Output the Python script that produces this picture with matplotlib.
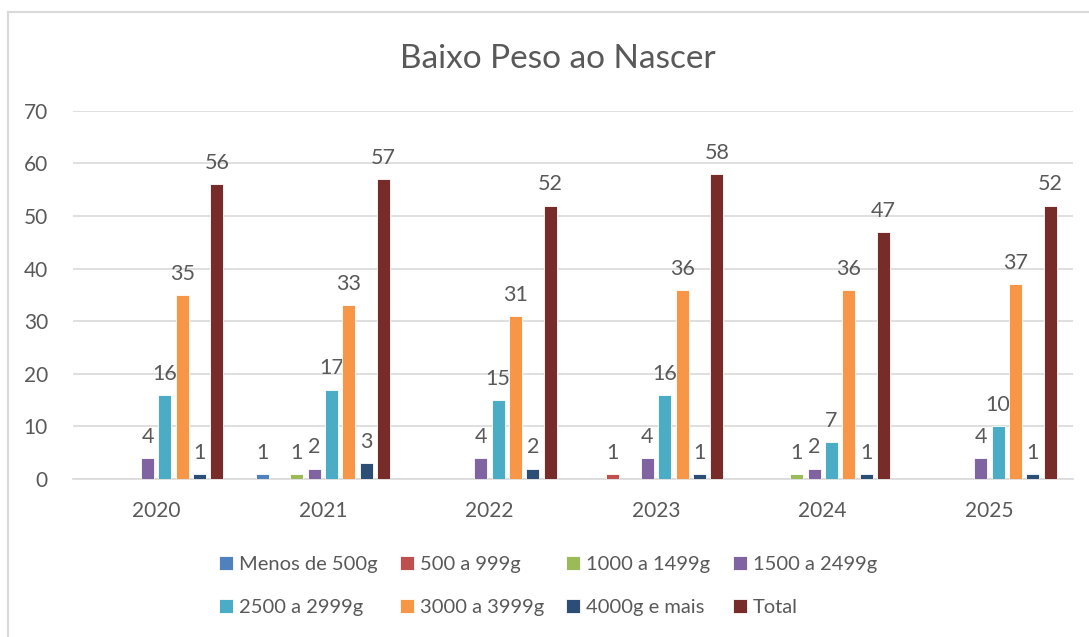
import matplotlib
matplotlib.use("Agg")
import matplotlib.pyplot as plt
from matplotlib.lines import Line2D
import numpy as np

plt.rcParams['font.family'] = ['Lato', 'DejaVu Sans']

years = ["2020", "2021", "2022", "2023", "2024", "2025"]
series_names = ["Menos de 500g", "500 a 999g", "1000 a 1499g", "1500 a 2499g",
                "2500 a 2999g", "3000 a 3999g", "4000g e mais", "Total"]
menos_500 = [0, 1, 0, 0, 0, 0]
de_500_999 = [0, 0, 0, 1, 0, 0]
de_1000_1499 = [0, 1, 0, 0, 1, 0]
de_1500_2499 = [4, 2, 4, 4, 2, 4]
de_2500_2999 = [16, 17, 15, 16, 7, 10]
de_3000_3999 = [35, 33, 31, 36, 36, 37]
mais_4000 = [1, 3, 2, 1, 1, 1]
total = [56, 57, 52, 58, 47, 52]
all_series = [menos_500, de_500_999, de_1000_1499, de_1500_2499,
              de_2500_2999, de_3000_3999, mais_4000, total]
colors = ["#4F81BD", "#C0504D", "#9BBB59", "#8064A2",
          "#4BACC6", "#F79646", "#2C4D75", "#772C2A"]
text_color = "#595959"
grid_color = "#D9D9D9"

fig = plt.figure(figsize=(10.89, 6.37), dpi=100)
ax = fig.add_axes([0.067, 0.248, 0.918, 0.578])

x = np.arange(len(years))
pitch = 0.104
width = 0.078
handles = []
for i, (name, vals, c) in enumerate(zip(series_names, all_series, colors)):
    pos = x + (i - 3.5) * pitch
    bars = ax.bar(pos, vals, width, color=c, label=name,
                  edgecolor="white", linewidth=0.6, zorder=3)
    handles.append(bars)
    for b, v in zip(bars, vals):
        if v != 0:
            ax.annotate(str(v), (b.get_x() + b.get_width() / 2, v),
                        xytext=(0, 8), textcoords="offset points",
                        ha="center", va="bottom", fontsize=15.5, color=text_color)

ax.set_xlim(-0.5, len(years) - 0.5)
ax.set_ylim(0, 70)
ax.set_yticks(range(0, 71, 10))
ax.set_xticks(x)
ax.set_xticklabels(years)
ax.yaxis.grid(True, color=grid_color, linewidth=1.2, zorder=0)
ax.set_axisbelow(True)
for s in ["top", "right", "left"]:
    ax.spines[s].set_visible(False)
ax.spines["bottom"].set_color(grid_color)
ax.spines["bottom"].set_linewidth(1.2)
ax.tick_params(axis="both", length=0, labelsize=15, labelcolor=text_color)
ax.tick_params(axis="y", pad=18)
ax.tick_params(axis="x", pad=16)

fig.text(0.512, 0.908, "Baixo Peso ao Nascer", ha="center", va="center",
         fontsize=24, color=text_color)

order = [0, 4, 1, 5, 2, 6, 3, 7]
leg = fig.legend([handles[k] for k in order], [series_names[k] for k in order],
                 loc="center", bbox_to_anchor=(0.503, 0.080), ncol=4,
                 frameon=False, fontsize=14.5, labelcolor=text_color,
                 handlelength=0.7, handleheight=0.7, handletextpad=0.3,
                 columnspacing=1.1, labelspacing=1.3)

# chart area border (left and top)
fig.add_artist(Line2D([8 / 1089, 8 / 1089], [0, 1 - 12 / 637],
                      transform=fig.transFigure, color=grid_color, linewidth=1.5))
fig.add_artist(Line2D([8 / 1089, 1], [1 - 12 / 637, 1 - 12 / 637],
                      transform=fig.transFigure, color=grid_color, linewidth=1.5))

fig.savefig("out.png", dpi=100, facecolor="white")
